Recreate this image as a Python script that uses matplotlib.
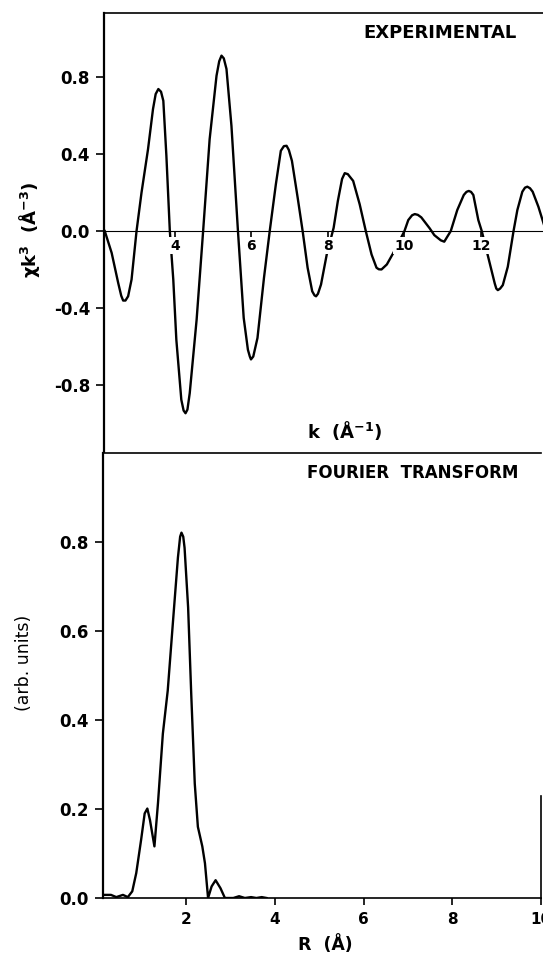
import matplotlib
matplotlib.use("Agg")
import matplotlib.pyplot as plt

plt.rcParams['font.family'] = ['DejaVu Sans']
plt.rcParams['mathtext.fontset'] = 'custom'
plt.rcParams['mathtext.rm'] = 'DejaVu Sans:bold'
plt.rcParams['mathtext.bf'] = 'DejaVu Sans:bold'
plt.rcParams['mathtext.default'] = 'rm'

# ---- data: EXAFS chi*k^3 (experimental) ----
k_exp = [2.17, 2.35, 2.52, 2.60, 2.65, 2.71, 2.78, 2.87, 3.00, 3.13, 3.30, 3.43, 3.50,
         3.57, 3.64, 3.70, 3.78, 3.87, 3.96, 4.04, 4.17, 4.23, 4.28, 4.33, 4.39, 4.57,
         4.74, 4.91, 5.09, 5.16, 5.22, 5.28, 5.35, 5.48, 5.65, 5.80, 5.91, 5.96, 5.99,
         6.05, 6.16, 6.33, 6.48, 6.64, 6.77, 6.85, 6.92, 6.98, 7.06, 7.21, 7.34, 7.47,
         7.59, 7.65, 7.69, 7.74, 7.82, 7.97, 8.15, 8.26, 8.37, 8.44, 8.52, 8.66, 8.83,
         8.99, 9.14, 9.27, 9.33, 9.40, 9.54, 9.71, 10.00, 10.10, 10.20, 10.27, 10.35,
         10.44, 10.66, 10.78, 10.95, 11.04, 11.12, 11.21, 11.38, 11.55, 11.62, 11.68,
         11.74, 11.80, 11.93, 12.02, 12.23, 12.36, 12.40, 12.44, 12.50, 12.57, 12.70,
         12.85, 12.95, 13.08, 13.15, 13.21, 13.28, 13.35, 13.50, 13.65]
chi_exp = [0.0, -0.113, -0.268, -0.335, -0.360, -0.360, -0.338, -0.251, 0.0, 0.199,
           0.424, 0.632, 0.710, 0.736, 0.722, 0.675, 0.39, 0.0, -0.251, -0.563, -0.874,
           -0.930, -0.944, -0.925, -0.84, -0.459, 0.0, 0.476, 0.805, 0.880, 0.909, 0.895,
           0.84, 0.545, 0.0, -0.45, -0.615, -0.650, -0.665, -0.650, -0.554, -0.242, 0.0,
           0.242, 0.416, 0.440, 0.442, 0.420, 0.364, 0.173, 0.0, -0.19, -0.312, -0.333,
           -0.338, -0.325, -0.277, -0.121, 0.017, 0.156, 0.270, 0.300, 0.295, 0.26, 0.139,
           0.0, -0.121, -0.19, -0.198, -0.199, -0.173, -0.113, 0.0, 0.057, 0.082, 0.088,
           0.084, 0.071, 0.014, -0.021, -0.048, -0.055, -0.029, 0.0, 0.109, 0.187, 0.203,
           0.208, 0.203, 0.187, 0.057, 0.0, -0.168, -0.272, -0.298, -0.306, -0.298,
           -0.28, -0.185, 0.0, 0.109, 0.204, 0.225, 0.230, 0.222, 0.204, 0.126, 0.03]

# ---- data: Fourier transform magnitude ----
r_ft = [0.10, 0.30, 0.42, 0.57, 0.68, 0.78, 0.87, 0.98, 1.06, 1.12, 1.18, 1.28, 1.36,
        1.47, 1.58, 1.70, 1.81, 1.86, 1.89, 1.93, 1.96, 2.04, 2.11, 2.19, 2.26, 2.36,
        2.42, 2.49, 2.57, 2.66, 2.77, 2.87, 3.06, 3.19, 3.32, 3.46, 3.58, 3.70, 3.81]
ft_mag = [0.007, 0.007, 0.002, 0.007, 0.002, 0.015, 0.056, 0.131, 0.19, 0.201, 0.175,
          0.116, 0.213, 0.369, 0.466, 0.623, 0.765, 0.812, 0.821, 0.812, 0.787, 0.653,
          0.459, 0.257, 0.160, 0.116, 0.078, 0.0, 0.026, 0.040, 0.022, 0.0, 0.0, 0.004,
          0.0, 0.002, 0.0, 0.002, 0.0]

k_ticks = [4, 6, 8, 10, 12]
chi_ticks = [-0.8, -0.4, 0.0, 0.4, 0.8]
r_ticks = [2, 4, 6, 8, 10]
ft_ticks = [0.0, 0.2, 0.4, 0.6, 0.8]

W, H = 543, 957
fig = plt.figure(figsize=(W / 100, H / 100), dpi=100)

# ---------- top panel ----------
ax1 = fig.add_axes([104 / W, 1 - 453 / H, 1 - 104 / W, 440 / H])
ax1.plot(k_exp, chi_exp, color='black', lw=1.7, solid_joinstyle='round', zorder=1)
ax1.set_xlim(2.15, 13.62)
ax1.set_ylim(-1.15, 1.13)
ax1.set_axisbelow(False)
ax1.spines['right'].set_visible(False)
ax1.spines['bottom'].set_position(('data', 0))
ax1.spines['bottom'].set_linewidth(0.8)
ax1.spines['left'].set_linewidth(1.6)
ax1.spines['top'].set_linewidth(1.2)
ax1.set_xticks(k_ticks)
ax1.set_xticklabels([str(t) for t in k_ticks], fontsize=10, fontweight='bold')
ax1.set_yticks(chi_ticks)
ax1.set_yticklabels(['%.1f' % t for t in chi_ticks], fontsize=12, fontweight='bold')
ax1.tick_params(axis='x', direction='out', length=5, width=1.2, pad=0.5)
ax1.tick_params(axis='y', direction='out', length=6, width=1.2, pad=4)
for lab in ax1.get_xticklabels():
    lab.set_bbox(dict(facecolor='white', edgecolor='none', pad=1.0))
ax1.text(0.548, 0.052, 'k  (Å$^{-1}$)', transform=ax1.transAxes, ha='center',
         va='center', fontsize=13, fontweight='bold')
ax1.text(0.765, 0.955, 'EXPERIMENTAL', transform=ax1.transAxes, ha='center', va='center',
         fontsize=13, fontweight='bold')

# ---------- bottom panel ----------
ax2 = fig.add_axes([103 / W, 1 - 898 / H, 438 / W, 445 / H])
ax2.plot(r_ft, ft_mag, color='black', lw=1.7, solid_joinstyle='round', zorder=1)
ax2.set_xlim(0.12, 10)
ax2.set_ylim(0, 1.0)
ax2.spines['right'].set_bounds(0, 0.23)
ax2.spines['right'].set_linewidth(1.2)
ax2.spines['left'].set_linewidth(1.6)
ax2.spines['top'].set_linewidth(1.2)
ax2.spines['bottom'].set_linewidth(1.2)
ax2.set_xticks(r_ticks)
ax2.set_xticklabels([str(t) for t in r_ticks], fontsize=11, fontweight='bold')
ax2.set_yticks(ft_ticks)
ax2.set_yticklabels(['%.1f' % t for t in ft_ticks], fontsize=12, fontweight='bold')
ax2.tick_params(axis='x', direction='out', length=5, width=1.2, pad=5)
ax2.tick_params(axis='y', direction='out', length=6, width=1.2, pad=4)
ax2.text(0.706, 0.955, 'FOURIER  TRANSFORM', transform=ax2.transAxes, ha='center',
         va='center', fontsize=12, fontweight='bold')

# axis titles
fig.text(30 / W, 1 - 230 / H, 'χk$^{3}$  (Å$^{-3}$)', rotation=90, ha='center',
         va='center', fontsize=13, fontweight='bold')
fig.text(24 / W, 1 - 663 / H, '(arb. units)', rotation=90, ha='center', va='center',
         fontsize=12.5)
fig.text(325 / W, 1 - 945 / H, 'R  (Å)', ha='center', va='center', fontsize=12.5,
         fontweight='bold')

fig.savefig('out.png', dpi=100)
